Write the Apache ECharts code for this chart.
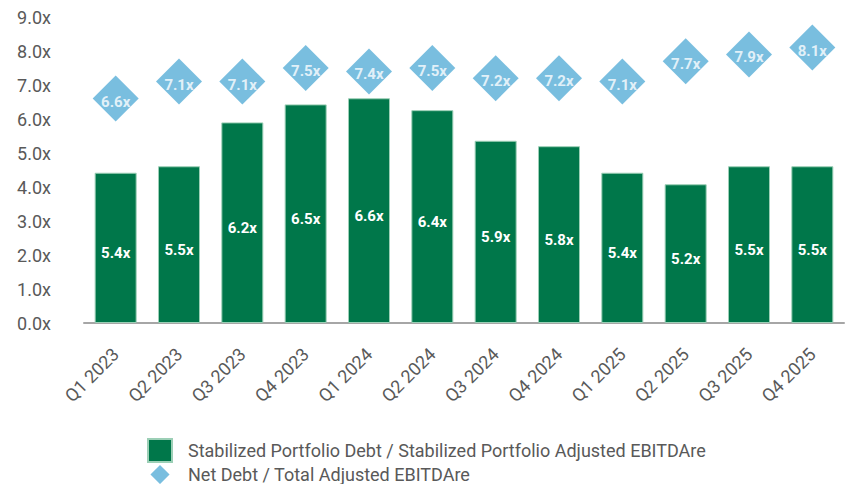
<!DOCTYPE html>
<html lang="en">
<head>
    <meta charset="UTF-8">
    <title>Leverage</title>
    <script src="https://cdn.jsdelivr.net/npm/echarts@6/dist/echarts.min.js"></script>
    <style>
        html, body {
            margin: 0;
            padding: 0;
            background: #fff;
        }
        #main {
            width: 845px;
            height: 484px;
        }
    </style>
</head>
<body>
<div id="main"></div>
<script type="text/javascript">
    var quarters = ['Q1 2023', 'Q2 2023', 'Q3 2023', 'Q4 2023', 'Q1 2024', 'Q2 2024',
        'Q3 2024', 'Q4 2024', 'Q1 2025', 'Q2 2025', 'Q3 2025', 'Q4 2025'];
    // bar heights as drawn in the picture (they don't follow the printed labels)
    var barHeights = [4.42, 4.61, 5.90, 6.43, 6.61, 6.26, 5.36, 5.20, 4.42, 4.08, 4.61, 4.61];
    var barLabels = ['5.4x', '5.5x', '6.2x', '6.5x', '6.6x', '6.4x', '5.9x', '5.8x', '5.4x', '5.2x', '5.5x', '5.5x'];
    var netDebt = [6.6, 7.1, 7.1, 7.5, 7.4, 7.5, 7.2, 7.2, 7.1, 7.7, 7.9, 8.1];
    var yTicks = ['0.0x', '1.0x', '2.0x', '3.0x', '4.0x', '5.0x', '6.0x', '7.0x', '8.0x', '9.0x'];
    var barName = 'Stabilized Portfolio Debt / Stabilized Portfolio Adjusted EBITDAre';
    var diamondName = 'Net Debt / Total Adjusted EBITDAre';

    var green = '#00774A';
    var blue = '#58AED7';
    var grey = '#595959';

    var myChart = echarts.init(document.getElementById('main'), null, {renderer: 'svg'});

    var option = {
        animation: false,
        textStyle: {fontFamily: 'Roboto'},
        grid: {
            left: 84,
            right: 1,
            top: 17,
            bottom: 161
        },
        legend: {
            orient: 'vertical',
            left: 147,
            top: 438,
            height: 80,
            width: 650,
            padding: 0,
            itemWidth: 24,
            itemHeight: 23,
            itemGap: 0,
            textStyle: {color: grey, fontSize: 18, lineHeight: 20, padding: [0, 0, 0, 11]},
            data: [
                {name: barName, icon: 'rect'},
                {name: diamondName, icon: 'path://M0,0M12,2L22,12L12,22L2,12ZM24,24'}
            ]
        },
        xAxis: {
            type: 'category',
            data: quarters,
            axisTick: {show: false},
            axisLine: {lineStyle: {color: '#A6A6A6', width: 2}},
            axisLabel: {
                rotate: 45,
                margin: 28,
                color: grey,
                fontSize: 18,
                interval: 0
            }
        },
        yAxis: {
            type: 'value',
            min: 0,
            max: 9,
            interval: 1,
            splitLine: {show: false},
            axisLine: {show: false},
            axisLabel: {
                color: grey,
                fontSize: 18,
                margin: 33,
                formatter: function (v) {
                    return yTicks[Math.round(v)];
                }
            }
        },
        series: [
            {
                name: barName,
                type: 'bar',
                data: barHeights,
                barWidth: 42,
                itemStyle: {color: green, borderColor: '#9CCFB6', borderWidth: 1},
                label: {
                    show: true,
                    position: 'inside',
                    offset: [0, 5],
                    color: '#fff',
                    fontWeight: 'bold',
                    fontSize: 15,
                    formatter: function (p) {
                        return barLabels[p.dataIndex];
                    }
                }
            },
            {
                name: diamondName,
                type: 'scatter',
                data: netDebt,
                symbol: 'diamond',
                symbolSize: 46,
                z: 5,
                itemStyle: {color: blue},
                label: {
                    show: true,
                    position: 'inside',
                    offset: [0, 3],
                    color: '#fff',
                    fontWeight: 'bold',
                    fontSize: 15,
                    formatter: function (p) {
                        return p.value.toFixed(1) + 'x';
                    }
                }
            }
        ]
    };

    myChart.setOption(option);
</script>
</body>
</html>
